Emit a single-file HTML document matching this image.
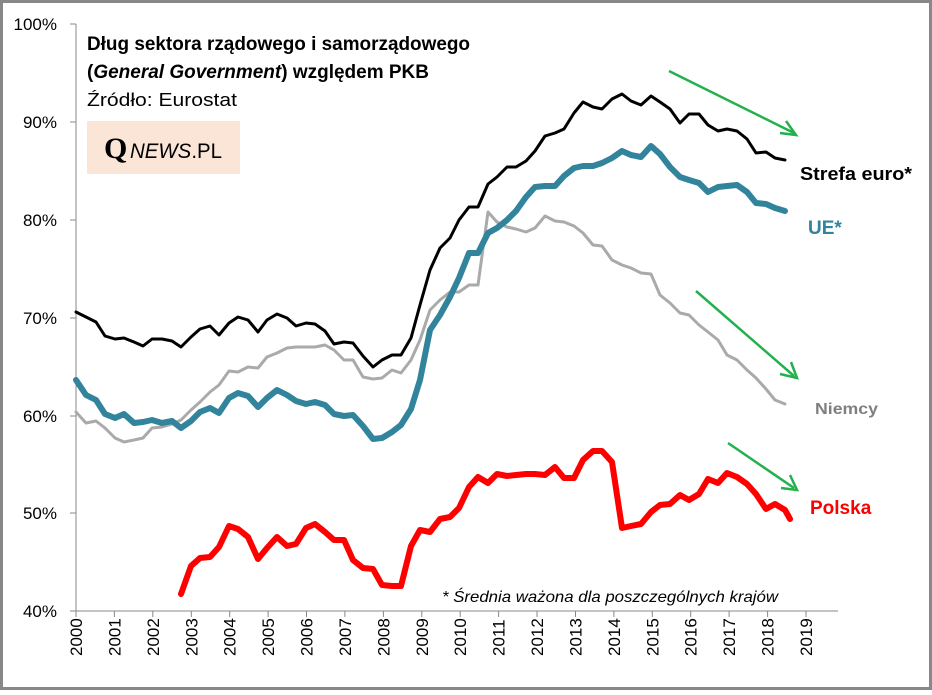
<!DOCTYPE html>
<html><head><meta charset="utf-8"><style>
body{margin:0;background:#fff}
svg text{font-family:"Liberation Sans",sans-serif}
</style></head><body>
<svg width="932" height="690" xmlns="http://www.w3.org/2000/svg">
<rect x="1.5" y="1.5" width="929" height="687" fill="#fff" stroke="#888" stroke-width="3"/>
<g stroke="#888" stroke-width="1">
<line x1="76" y1="24" x2="76" y2="611"/>
<line x1="76" y1="611" x2="838" y2="611"/>
<line x1="70" y1="24" x2="76" y2="24"/><line x1="70" y1="122" x2="76" y2="122"/><line x1="70" y1="220" x2="76" y2="220"/><line x1="70" y1="318" x2="76" y2="318"/><line x1="70" y1="416" x2="76" y2="416"/><line x1="70" y1="513" x2="76" y2="513"/><line x1="70" y1="611" x2="76" y2="611"/>
</g>
<g font-size="17" text-anchor="end" fill="#000">
<text x="57" y="30">100%</text><text x="57" y="128">90%</text><text x="57" y="226">80%</text><text x="57" y="324">70%</text><text x="57" y="422">60%</text><text x="57" y="519">50%</text><text x="57" y="617">40%</text>
</g>
<g stroke="#888">
<path d="M76 611v6M114.4 611v6M152.8 611v6M191.3 611v6M229.7 611v6M268.1 611v6M306.5 611v6M344.9 611v6M383.4 611v6M421.8 611v6M460.2 611v6M498.6 611v6M537 611v6M575.5 611v6M613.9 611v6M652.3 611v6M690.7 611v6M729.1 611v6M767.6 611v6M806 611v6"/>
</g>
<g font-size="17" fill="#000">
<text transform="translate(82,656) rotate(-90)">2000</text>
<text transform="translate(120.4,656) rotate(-90)">2001</text>
<text transform="translate(158.8,656) rotate(-90)">2002</text>
<text transform="translate(197.3,656) rotate(-90)">2003</text>
<text transform="translate(235.7,656) rotate(-90)">2004</text>
<text transform="translate(274.1,656) rotate(-90)">2005</text>
<text transform="translate(312.5,656) rotate(-90)">2006</text>
<text transform="translate(350.9,656) rotate(-90)">2007</text>
<text transform="translate(389.4,656) rotate(-90)">2008</text>
<text transform="translate(427.8,656) rotate(-90)">2009</text>
<text transform="translate(466.2,656) rotate(-90)">2010</text>
<text transform="translate(504.6,656) rotate(-90)">2011</text>
<text transform="translate(543,656) rotate(-90)">2012</text>
<text transform="translate(581.5,656) rotate(-90)">2013</text>
<text transform="translate(619.9,656) rotate(-90)">2014</text>
<text transform="translate(658.3,656) rotate(-90)">2015</text>
<text transform="translate(696.7,656) rotate(-90)">2016</text>
<text transform="translate(735.1,656) rotate(-90)">2017</text>
<text transform="translate(773.6,656) rotate(-90)">2018</text>
<text transform="translate(812,656) rotate(-90)">2019</text>
</g>
<g fill="none" stroke-linejoin="round" stroke-linecap="round">
<polyline stroke="#aaa" stroke-width="3" points="76,412 86,423 96,421 105,428 115,438 124,442 134,440 143,438 152,428 162,427 172,424 181,420 191,410 200,402 210,392 219,385 229,371 238,372 248,367 258,368 267,357 277,353 287,348 296,347 306,347 315,347 325,345 334,350 344,360 353,360 363,377 373,379 382,378 392,370 401,373 411,360 420,340 430,310 440,300 450,292 459,292 469,285 478,285 488,212 497,222 507,227 516,229 526,232 535,228 545,216 555,221 564,222 574,226 583,233 593,245 602,246 612,260 622,265 631,268 641,273 651,274 660,295 670,303 680,313 689,315 699,325 708,332 718,340 727,355 737,360 747,370 756,378 766,389 775,400 785,404"/>
<polyline stroke="#31849b" stroke-width="6" points="76,380 86,395 96,400 105,414 115,418 124,414 134,423 143,422 152,420 162,423 172,421 181,428 191,421 200,412 210,408 219,413 229,398 238,393 248,396 258,407 267,398 277,390 287,395 296,401 306,404 315,402 325,405 334,414 344,416 353,415 363,426 373,439 382,438 392,432 401,425 411,409 420,380 430,330 440,315 450,297 459,278 469,253 478,253 488,233 497,228 507,220 516,211 526,197 535,187 545,186 555,186 564,176 574,168 583,166 593,166 602,163 612,158 622,151 631,155 641,157 651,146 660,154 670,167 680,177 689,180 699,183 708,192 718,187 727,186 737,185 747,192 756,203 766,204 775,208 785,211"/>
<polyline stroke="#000" stroke-width="3" points="76,312 86,317 96,322 105,336 115,339 124,338 134,342 143,346 152,339 162,339 172,341 181,347 191,337 200,329 210,326 219,335 229,323 238,317 248,320 258,332 267,320 277,314 287,318 296,326 306,323 315,324 325,331 334,344 344,342 353,343 363,356 373,367 382,360 392,355 401,355 411,338 420,305 430,270 440,248 450,238 459,220 469,207 478,207 488,184 497,177 507,167 516,167 526,161 535,151 545,136 555,133 564,129 574,113 583,102 593,107 602,109 612,99 622,94 631,101 641,105 651,96 660,102 670,109 680,123 689,114 699,114 708,125 718,131 727,129 737,131 747,139 756,153 766,152 775,158 785,160"/>
<polyline stroke="#ff0000" stroke-width="6" points="181,594 191,566 200,558 210,557 219,547 229,526 238,529 248,537 258,559 267,548 277,537 287,546 296,544 306,528 315,524 325,532 334,540 344,540 353,560 363,568 373,569 382,585 392,586 401,586 411,546 420,530 430,532 440,519 450,517 459,508 469,487 478,477 488,483 497,474 507,476 516,475 526,474 535,474 545,475 555,467 564,478 574,478 583,460 593,451 602,451 612,462 622,528 631,526 641,524 651,512 660,505 670,504 680,495 689,500 699,494 708,479 718,483 727,473 737,477 747,484 756,494 766,509 775,504 785,510 790,519"/>
</g>
<g stroke="#22b14c" stroke-width="2.5" fill="none">
<line x1="669" y1="71" x2="794" y2="133"/><polyline points="780,133 796,135 786,121"/>
<line x1="696" y1="291" x2="794" y2="376"/><polyline points="780,374 797,378 791,362"/>
<line x1="728" y1="443" x2="794" y2="488"/><polyline points="781,488 797,490 790,475"/>
</g>
<g font-weight="bold">
<text x="87" y="50" font-size="19" textLength="383" lengthAdjust="spacingAndGlyphs">Dług sektora rządowego i samorządowego</text>
<text x="87" y="78" font-size="19" textLength="342" lengthAdjust="spacingAndGlyphs">(<tspan font-style="italic">General Government</tspan>) względem PKB</text>
</g>
<text x="87" y="106" font-size="18" textLength="150" lengthAdjust="spacingAndGlyphs">Źródło: Eurostat</text>
<rect x="87" y="121" width="153" height="53" fill="#fbe5d6"/>
<text x="104" y="158" font-size="30" font-weight="bold" style="font-family:'Liberation Serif',serif">Q</text>
<text x="130" y="158" font-size="21" textLength="92" lengthAdjust="spacingAndGlyphs"><tspan font-style="italic">NEWS</tspan>.PL</text>
<text x="442" y="602" font-size="16" font-style="italic" textLength="336" lengthAdjust="spacingAndGlyphs">* Średnia ważona dla poszczególnych krajów</text>
<g font-weight="bold">
<text x="800" y="180" font-size="18" textLength="112" lengthAdjust="spacingAndGlyphs">Strefa euro*</text>
<text x="808" y="234" font-size="19" fill="#31849b">UE*</text>
<text x="815" y="414" font-size="16" fill="#7f7f7f" textLength="63" lengthAdjust="spacingAndGlyphs">Niemcy</text>
<text x="810" y="514" font-size="19" fill="#ff0000">Polska</text>
</g>
</svg>
</body></html>
